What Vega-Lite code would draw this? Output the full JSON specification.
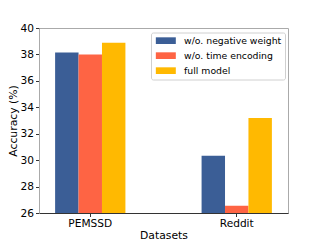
{
  "$schema": "https://vega.github.io/schema/vega-lite/v6.json",
  "width": 249,
  "height": 185,
  "autosize": {"type": "none"},
  "padding": {"left": 39, "top": 28, "right": 32, "bottom": 27},
  "background": "white",
  "config": {
    "font": "DejaVu Sans",
    "view": {"stroke": "#aaaaaa", "strokeWidth": 1},
    "axis": {"labelFont": "DejaVu Sans", "titleFont": "DejaVu Sans", "labelColor": "#000", "titleColor": "#000", "titleFontWeight": "normal", "grid": false}
  },
  "data": {
    "values": [
      {"dataset": "PEMSSD", "model": "w/o. negative weight", "acc": 38.15},
      {"dataset": "PEMSSD", "model": "w/o. time encoding", "acc": 38.0},
      {"dataset": "PEMSSD", "model": "full model", "acc": 38.88},
      {"dataset": "Reddit", "model": "w/o. negative weight", "acc": 30.33},
      {"dataset": "Reddit", "model": "w/o. time encoding", "acc": 26.55},
      {"dataset": "Reddit", "model": "full model", "acc": 33.18}
    ]
  },
  "mark": {"type": "bar", "clip": true},
  "encoding": {
    "x": {
      "field": "dataset", "type": "nominal", "sort": ["PEMSSD", "Reddit"],
      "scale": {"paddingInner": 0.52, "paddingOuter": 0.11},
      "axis": {"title": "Datasets", "labelAngle": 0, "labelFontSize": 10.6, "titleFontSize": 10.8, "domainColor": "#333", "tickColor": "#333", "tickSize": 3.5, "labelPadding": 2, "titlePadding": 0}
    },
    "xOffset": {
      "field": "model", "type": "nominal",
      "sort": ["w/o. negative weight", "w/o. time encoding", "full model"],
      "scale": {"paddingInner": 0, "paddingOuter": 0}
    },
    "y": {
      "field": "acc", "type": "quantitative",
      "scale": {"domain": [26, 40], "nice": false, "zero": false},
      "axis": {"title": "Accuracy (%)", "values": [26, 28, 30, 32, 34, 36, 38, 40], "labelFontSize": 10.6, "titleFontSize": 10.8, "domainColor": "#aaaaaa", "tickColor": "#333", "tickSize": 3.5, "labelPadding": 2, "titlePadding": 2}
    },
    "color": {
      "field": "model", "type": "nominal",
      "sort": ["w/o. negative weight", "w/o. time encoding", "full model"],
      "scale": {"domain": ["w/o. negative weight", "w/o. time encoding", "full model"], "range": ["#3b5e96", "#fe6444", "#ffb901"]},
      "legend": {
        "title": null, "orient": "none", "legendX": 112, "legendY": 4.5,
        "symbolType": "M-3,-1H3V1H-3Z", "symbolSize": 44.4, "symbolStrokeWidth": 0, "symbolOffset": 6.67,
        "labelFontSize": 9.3, "labelOffset": 13.6, "rowPadding": 5,
        "padding": 3.5, "strokeColor": "#d0d0d0", "fillColor": "white", "cornerRadius": 2
      }
    }
  }
}
